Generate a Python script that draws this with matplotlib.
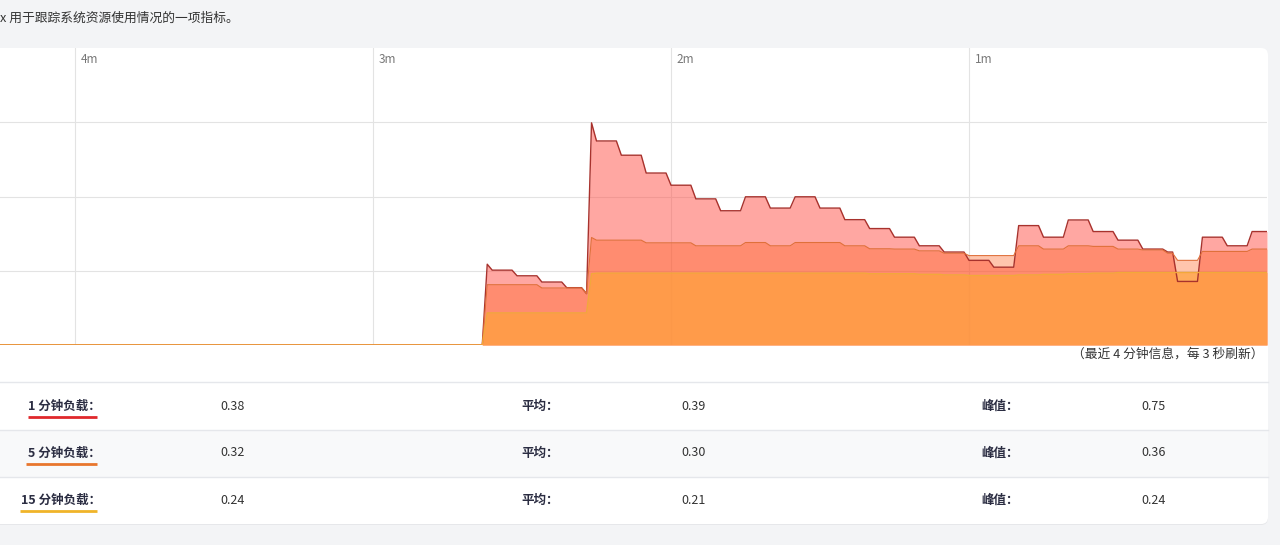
import numpy as np
import matplotlib.pyplot as plt
from matplotlib.patches import FancyBboxPatch, Rectangle

plt.rcParams['font.family'] = ['Noto Sans CJK SC', 'DejaVu Sans']

# моменты обновления нагрузки (секунды до текущего момента)
upd_t = [-157, -156, -151, -146, -141, -137, -136, -135, -130, -125, -120, -115,
         -110, -105, -100, -95, -90, -85, -80, -75, -70, -65, -60, -55, -50, -45,
         -40, -35, -30, -25, -20, -18, -13, -8, -3]
load1 = [0.272, 0.252, 0.233, 0.212, 0.193, 0.173, 0.748, 0.687, 0.639, 0.579, 0.538, 0.492,
         0.452, 0.499, 0.461, 0.499, 0.461, 0.422, 0.392, 0.363, 0.334, 0.313, 0.285, 0.262,
         0.402, 0.363, 0.421, 0.382, 0.353, 0.323, 0.313, 0.214, 0.363, 0.334, 0.382]
load5 = [0.203, 0.203, 0.203, 0.192, 0.192, 0.173, 0.362, 0.353, 0.353, 0.344, 0.344, 0.334,
         0.334, 0.345, 0.334, 0.345, 0.345, 0.334, 0.324, 0.323, 0.317, 0.309, 0.301, 0.301,
         0.334, 0.323, 0.334, 0.332, 0.323, 0.320, 0.309, 0.285, 0.315, 0.315, 0.323]
load15 = [0.108, 0.108, 0.108, 0.108, 0.108, 0.108, 0.240, 0.242, 0.242, 0.242, 0.242, 0.242,
          0.242, 0.242, 0.242, 0.242, 0.242, 0.242, 0.240, 0.240, 0.238, 0.236, 0.234, 0.234,
          0.236, 0.238, 0.240, 0.242, 0.244, 0.244, 0.244, 0.244, 0.244, 0.244, 0.244]

tick_pos = [-240, -180, -120, -60]
tick_lab = ['4m', '3m', '2m', '1m']

row_names = ['1 分钟负载：', '5 分钟负载：', '15 分钟负载：']
row_colors = ['#e0282c', '#e8762d', '#f0b429']
cur_vals = ['0.38', '0.32', '0.24']
avg_vals = ['0.39', '0.30', '0.21']
peak_vals = ['0.75', '0.36', '0.24']

W, H = 1280, 545
t_left = -255.1


def step_path(t, v, t0):
    # значение держится до следующего обновления, переход занимает 1 секунду
    xs, ys = [t0, t[0] - 1], [0, 0]
    for i in range(len(t)):
        t_end = t[i + 1] - 1 if i + 1 < len(t) else 0
        xs += [t[i], t_end]
        ys += [v[i], v[i]]
    return np.array(xs), np.array(ys)


fig = plt.figure(figsize=(W / 100, H / 100), dpi=100)
fig.patch.set_facecolor('#f3f4f6')

# фон, карточка и таблица в пикселях
bg = fig.add_axes([0, 0, 1, 1])
bg.set_xlim(0, W)
bg.set_ylim(H, 0)
bg.axis('off')

bg.add_patch(FancyBboxPatch((-20, 49), 1288, 476, boxstyle='round,pad=0,rounding_size=7',
                            fc='#e6e7ea', ec='none'))
bg.add_patch(FancyBboxPatch((-20, 48), 1288, 476, boxstyle='round,pad=0,rounding_size=7',
                            fc='white', ec='none'))
bg.add_patch(Rectangle((0, 430), 1268, 47, fc='#f8f9fa', ec='none'))
for yy in [382, 430, 477]:
    bg.plot([0, 1268], [yy, yy], color='#e5e7eb', lw=1)

bg.text(0, 18, 'x 用于跟踪系统资源使用情况的一项指标。', fontsize=9.2, color='#333333',
        ha='left', va='center')
bg.text(1263, 354, '（最近 4 分钟信息，每 3 秒刷新）', fontsize=9.2, color='#333333',
        ha='right', va='center')

label_col = '#2b2d42'
ul_start = [28, 26, 20]
for i in range(3):
    yc = 406 + 47 * i
    bg.text(101, yc, row_names[i], fontsize=9, color=label_col, ha='right', va='center',
            fontweight='bold')
    bg.plot([ul_start[i], 97], [yc + 11, yc + 11], color=row_colors[i], lw=2,
            solid_capstyle='butt')
    bg.text(220, yc, cur_vals[i], fontsize=9, color='#333333', ha='left', va='center')
    bg.text(521, yc, '平均：', fontsize=9, color=label_col, ha='left', va='center',
            fontweight='bold')
    bg.text(681, yc, avg_vals[i], fontsize=9, color='#333333', ha='left', va='center')
    bg.text(981, yc, '峰值：', fontsize=9, color=label_col, ha='left', va='center',
            fontweight='bold')
    bg.text(1141, yc, peak_vals[i], fontsize=9, color='#333333', ha='left', va='center')

# график нагрузки
ax = fig.add_axes([0, 1 - 345 / H, 1267 / W, (345 - 48) / H])
ax.set_facecolor('none')
ax.set_xlim(t_left, 0)
ax.set_ylim(0, 1)
for s in ax.spines.values():
    s.set_visible(False)
ax.set_xticks(tick_pos)
ax.set_yticks([0.25, 0.5, 0.75])
ax.tick_params(length=0, labelbottom=False, labelleft=False)
ax.grid(color='#e3e3e3', lw=0.8)
ax.set_axisbelow(True)

for p, lab in zip(tick_pos, tick_lab):
    ax.text(p + 1.2, 0.96, lab, fontsize=8.5, color='#777777', ha='left', va='center')

styles = [
    (load1, '#ff5046', 0.5, '#a8322d', 1.0),
    (load5, '#ff5a14', 0.35, '#e0703a', 0.8),
    (load15, '#ffa13c', 0.72, '#f2a83a', 1.0),
]
for vals, fc, a, lc, lw in styles:
    x, y = step_path(upd_t, vals, t_left)
    ax.fill_between(x, y, 0, color=fc, alpha=a, lw=0)
    ax.plot(x, y, color=lc, lw=lw)

fig.savefig('out.png', dpi=100, facecolor=fig.get_facecolor())
